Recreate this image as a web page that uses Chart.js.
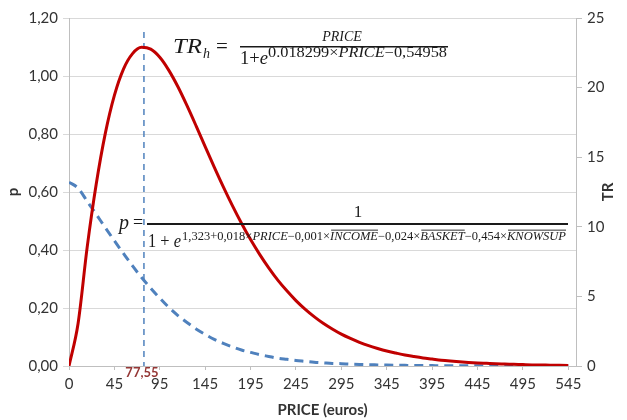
<!DOCTYPE html>
<html lang="en">
<head>
<meta charset="UTF-8">
<title>TR and p by PRICE</title>
<script src="https://cdn.jsdelivr.net/npm/chart.js"></script>
<style>
    body { margin: 0; background: #fff; }
    .chart-container { width: 627px; height: 420px; }
</style>
</head>
<body>
<div class="chart-container"><canvas id="chartPrice"></canvas></div>
<script>
// price categories (euros)
const prices = [0, 5, 15, 25, 35, 45, 55, 65, 75, 85, 95, 105, 115, 125, 135, 145, 155, 165, 175, 185,
    195, 205, 215, 225, 235, 245, 255, 265, 275, 285, 295, 305, 315, 325, 335, 345, 355, 365, 375, 385,
    395, 405, 415, 425, 435, 445, 455, 465, 475, 485, 495, 505, 515, 525, 535, 545];

// p (left axis, dashed blue)
const probValues = [0.634, 0.613, 0.568, 0.523, 0.477, 0.432, 0.388, 0.345, 0.305, 0.268,
    0.234, 0.202, 0.174, 0.150, 0.128, 0.109, 0.092, 0.078, 0.066, 0.055,
    0.047, 0.039, 0.033, 0.027, 0.023, 0.019, 0.016, 0.013, 0.011, 0.009,
    0.008, 0.0065, 0.0054, 0.0045, 0.0038, 0.0031, 0.0026, 0.0022, 0.0018, 0.0015,
    0.0013, 0.0010, 0.0009, 0.0007, 0.0006, 0.0005, 0.0004, 0.0004, 0.0003, 0.0002,
    0.0002, 0.0002, 0.0001, 0.0001, 0.0001, 0.0001];

// TR (right axis, red)
const trValues = [0, 3.06, 8.52, 13.07, 16.71, 19.44, 21.33, 22.44, 22.89, 22.76,
    22.18, 21.24, 20.06, 18.70, 17.25, 15.76, 14.29, 12.87, 11.52, 10.25,
    9.08, 8.02, 7.05, 6.17, 5.40, 4.70, 4.09, 3.55, 3.07, 2.66,
    2.29, 1.98, 1.70, 1.46, 1.26, 1.08, 0.93, 0.79, 0.68, 0.58,
    0.50, 0.42, 0.36, 0.31, 0.26, 0.22, 0.19, 0.16, 0.14, 0.12,
    0.10, 0.08, 0.07, 0.06, 0.05, 0.04];

const optimalPrice = 77.55;
const optimalLabel = '77,55';

Chart.defaults.font.family = 'Lato, "Liberation Sans", sans-serif';
Chart.defaults.font.size = 15;
Chart.defaults.color = '#333333';

// position of a price on the category-style index axis
function priceToIndex(price) {
    for (let i = 0; i < prices.length - 1; i++) {
        if (price >= prices[i] && price <= prices[i + 1]) {
            return i + (price - prices[i]) / (prices[i + 1] - prices[i]);
        }
    }
    return prices.length - 1;
}

const mathFont = (size, italic) => (italic ? 'italic ' : '') + size + 'px "Liberation Serif", serif';

// segments: [text, italic, overline]
function drawRun(ctx, segs, x, y, size, width) {
    const widths = segs.map(s => { ctx.font = mathFont(size, s[1]); return ctx.measureText(s[0]).width; });
    const total = widths.reduce((a, b) => a + b, 0);
    const sx = width ? width / total : 1;
    ctx.save();
    ctx.translate(x, y);
    ctx.scale(sx, 1);
    let cx = 0;
    segs.forEach((s, i) => {
        ctx.font = mathFont(size, s[1]);
        ctx.fillText(s[0], cx, 0);
        if (s[2]) ctx.fillRect(cx + 1, -size * 0.86, widths[i] - 1, 0.9);
        cx += widths[i];
    });
    ctx.restore();
}

const annotations = {
    id: 'annotations',
    beforeDatasetsDraw(chart) {
        const ctx = chart.ctx;
        const x = chart.scales.x.getPixelForValue(priceToIndex(optimalPrice));
        ctx.save();
        ctx.strokeStyle = '#4f81bd';
        ctx.lineWidth = 1.5;
        ctx.setLineDash([6, 5]);
        ctx.beginPath();
        ctx.moveTo(x, chart.chartArea.top + 14);
        ctx.lineTo(x, chart.chartArea.bottom);
        ctx.stroke();
        ctx.restore();
    },
    afterDraw(chart) {
        const ctx = chart.ctx;
        const x = chart.scales.x.getPixelForValue(priceToIndex(optimalPrice));
        ctx.save();
        ctx.fillStyle = '#953735';
        ctx.font = 'bold 13px Lato, sans-serif';
        ctx.textAlign = 'center';
        ctx.fillText(optimalLabel, x - 2, chart.chartArea.bottom + 11);

        // right axis title
        ctx.fillStyle = '#333333';
        ctx.font = 'bold 15px Lato, sans-serif';
        ctx.translate(608, 192);
        ctx.rotate(-Math.PI / 2);
        ctx.textBaseline = 'middle';
        ctx.fillText('TR', 0, 0);
        ctx.restore();

        // TR_h formula
        ctx.save();
        ctx.fillStyle = '#1a1a1a';
        ctx.textAlign = 'left';
        drawRun(ctx, [['TR', true]], 173, 53, 21, 29);
        drawRun(ctx, [['h', true]], 203, 58, 14);
        drawRun(ctx, [['=', false]], 216, 53, 21);
        ctx.fillRect(240, 46, 208, 1.5);
        ctx.textAlign = 'center';
        ctx.font = mathFont(14, true);
        ctx.fillText('PRICE', 342, 41);
        ctx.textAlign = 'left';
        drawRun(ctx, [['1+', false], ['e', true]], 240, 64, 18, 28);
        drawRun(ctx, [['0.018299×', false], ['PRICE', true], ['−0,54958', false]], 268, 57, 14, 179);

        // p formula
        drawRun(ctx, [['p', true]], 119, 229, 20);
        drawRun(ctx, [['=', false]], 133, 228, 18);
        ctx.fillRect(147, 223, 421, 2);
        ctx.textAlign = 'center';
        ctx.font = mathFont(17, false);
        ctx.fillText('1', 358, 217);
        ctx.textAlign = 'left';
        drawRun(ctx, [['1 + ', false], ['e', true]], 148, 247, 18, 33);
        drawRun(ctx, [['1,323+0,018×', false], ['PRICE', true], ['−0,001×', false], ['INCOME', true, true],
            ['−0,024×', false], ['BASKET', true, true], ['−0,454×', false], ['KNOWSUP', true, true]],
            182, 240, 12, 384);
        ctx.restore();
    }
};

const ctx = document.getElementById('chartPrice').getContext('2d');

new Chart(ctx, {
    type: 'line',
    data: {
        datasets: [{
            label: 'TR',
            data: trValues.map((v, i) => ({ x: i, y: v })),
            yAxisID: 'y1',
            borderColor: '#c00000',
            borderWidth: 3,
            pointRadius: 0,
            cubicInterpolationMode: 'monotone',
            order: 0
        }, {
            label: 'p',
            data: probValues.map((v, i) => ({ x: i, y: v })),
            yAxisID: 'y',
            borderColor: '#4f81bd',
            borderWidth: 3,
            borderDash: [9, 6],
            pointRadius: 0,
            cubicInterpolationMode: 'monotone',
            order: 1
        }]
    },
    options: {
        responsive: true,
        maintainAspectRatio: false,
        animation: false,
        layout: { padding: { top: 18, right: 0, left: 0, bottom: 0 } },
        plugins: { legend: { display: false }, tooltip: { enabled: false } },
        scales: {
            x: {
                type: 'linear',
                min: 0,
                max: 55.85,
                afterBuildTicks: scale => {
                    scale.ticks = prices.map((p, i) => ({ value: i })).filter(t => t.value % 5 === 0);
                },
                ticks: { autoSkip: false, maxRotation: 0, padding: 5, callback: v => prices[v] },
                grid: { drawOnChartArea: false, tickLength: 4, color: '#bfbfbf' },
                border: { color: '#bfbfbf' },
                title: { display: true, text: 'PRICE (euros)', font: { weight: 'bold', size: 15 }, padding: { top: 0, bottom: 1 } },
                afterFit: scale => { scale.height = 54; }
            },
            y: {
                position: 'left',
                min: 0,
                max: 1.2,
                ticks: { stepSize: 0.2, padding: 5, callback: v => v.toFixed(2).replace('.', ',') },
                grid: { color: '#d9d9d9', tickLength: 6 },
                border: { color: '#bfbfbf' },
                title: { display: true, text: 'p', font: { weight: 'bold', size: 15 }, padding: { top: 4, bottom: 0 } },
                afterFit: scale => { scale.width = 69; }
            },
            y1: {
                position: 'right',
                min: 0,
                max: 25,
                ticks: { stepSize: 5, padding: 5 },
                grid: { drawOnChartArea: false, tickLength: 6, color: '#bfbfbf' },
                border: { color: '#bfbfbf' },
                afterFit: scale => { scale.width = 51; }
            }
        }
    },
    plugins: [annotations]
});
</script>
</body>
</html>
